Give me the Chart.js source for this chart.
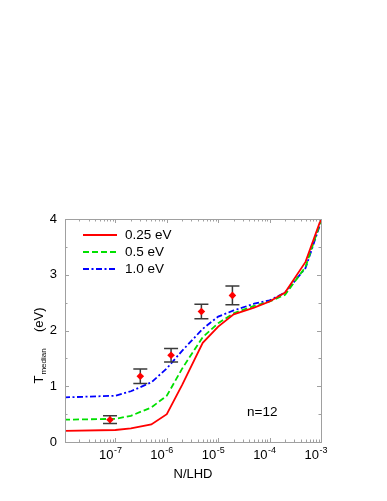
<!DOCTYPE html>
<html>
<head>
<meta charset="utf-8">
<script src="https://cdn.jsdelivr.net/npm/chart.js@4/dist/chart.umd.min.js"></script>
<style>
html,body{margin:0;padding:0;background:#fff;}
canvas{display:block;}
</style>
</head>
<body>
<canvas id="c" width="387" height="501"></canvas>
<script>
// ---- data ----
const xValues = [1e-8, 1e-7, 2e-7, 5e-7, 1e-6, 2e-6, 5e-6, 1e-5, 2e-5, 5e-5, 1e-4, 2e-4, 5e-4, 1e-3];
const series025 = [0.20, 0.215, 0.245, 0.315, 0.50, 1.03, 1.78, 2.07, 2.29, 2.41, 2.52, 2.68, 3.23, 4.00];
const series05  = [0.40, 0.415, 0.47, 0.62, 0.83, 1.32, 1.88, 2.13, 2.31, 2.44, 2.52, 2.64, 3.14, 3.97];
const series10  = [0.80, 0.83, 0.91, 1.07, 1.32, 1.64, 2.03, 2.25, 2.36, 2.48, 2.54, 2.68, 3.12, 3.95];
const seriesLabels = ['0.25 eV', '0.5 eV', '1.0 eV'];
const expX   = [7.85e-8, 3.05e-7, 1.21e-6, 4.71e-6, 1.89e-5];
const expY   = [0.40, 1.18, 1.555, 2.34, 2.63];
const expErr = [0.07, 0.13, 0.12, 0.13, 0.17];
const xTickValues = [1e-7, 1e-6, 1e-5, 1e-4, 1e-3];
const xTickExponents = ['-7', '-6', '-5', '-4', '-3'];
const yTickValues = [0, 1, 2, 3, 4];
const xTitle = 'N/LHD';
const yTitleMain = 'T';
const yTitleSub = 'median';
const yTitleUnit = '(eV)';
const annotation = 'n=12';

const FONT = '"Liberation Sans", Arial, Helvetica, sans-serif';
const pts = (ys) => xValues.map((x, i) => ({x: x, y: ys[i]}));

const decorPlugin = {
  id: 'decor',
  beforeDatasetDraw(chart, args) {
    if (args.index !== 0) return;
    const ctx = chart.ctx, xs = chart.scales.x, ys = chart.scales.y;
    ctx.save();
    ctx.strokeStyle = '#3a3a3a';
    ctx.lineWidth = 1.5;
    expX.forEach((xv, i) => {
      const px = xs.getPixelForValue(xv);
      const top = ys.getPixelForValue(expY[i] + expErr[i]);
      const bot = ys.getPixelForValue(expY[i] - expErr[i]);
      ctx.beginPath();
      ctx.moveTo(px, top); ctx.lineTo(px, bot);
      ctx.moveTo(px - 7, top); ctx.lineTo(px + 7, top);
      ctx.moveTo(px - 7, bot); ctx.lineTo(px + 7, bot);
      ctx.stroke();
    });
    ctx.restore();
  },
  afterDraw(chart) {
    const ctx = chart.ctx, a = chart.chartArea, xs = chart.scales.x, ys = chart.scales.y;
    ctx.save();
    // frame
    ctx.strokeStyle = '#a0a0a0';
    ctx.lineWidth = 1;
    ctx.strokeRect(a.left + 0.5, a.top + 0.5, a.right - a.left, a.bottom - a.top);
    // ticks
    ctx.beginPath();
    const logMin = Math.log10(xs.min), logMax = Math.log10(xs.max);
    for (let d = Math.floor(logMin); d <= Math.ceil(logMax); d++) {
      for (let m = 1; m <= 9; m++) {
        const v = m * Math.pow(10, d);
        if (v < xs.min * 0.999 || v > xs.max * 1.001) continue;
        const px = Math.round(xs.getPixelForValue(v)) + 0.5;
        const len = m === 1 ? 4 : 2.5;
        ctx.moveTo(px, a.bottom); ctx.lineTo(px, a.bottom - len);
        ctx.moveTo(px, a.top); ctx.lineTo(px, a.top + len);
      }
    }
    for (let v = 0; v <= 4.0001; v += 0.5) {
      const py = Math.round(ys.getPixelForValue(v)) + 0.5;
      const len = (Math.abs(v - Math.round(v)) < 1e-6) ? 4 : 2.5;
      ctx.moveTo(a.left, py); ctx.lineTo(a.left + len, py);
      ctx.moveTo(a.right, py); ctx.lineTo(a.right - len, py);
    }
    ctx.stroke();

    ctx.fillStyle = '#000';
    // y tick labels
    ctx.font = '13px ' + FONT;
    ctx.textAlign = 'right';
    ctx.textBaseline = 'middle';
    yTickValues.forEach(v => ctx.fillText(String(v), 57, ys.getPixelForValue(v)));
    // x tick labels with superscripts
    ctx.textAlign = 'left';
    ctx.textBaseline = 'alphabetic';
    xTickValues.forEach((v, i) => {
      const px = xs.getPixelForValue(v);
      ctx.font = '13px ' + FONT;
      const w10 = ctx.measureText('10').width;
      const x0 = px - 2 - w10;
      ctx.fillText('10', x0, 458.5);
      ctx.font = '9px ' + FONT;
      ctx.fillText(xTickExponents[i], x0 + w10 + 0.5, 453);
    });
    // x title
    ctx.font = '13px ' + FONT;
    ctx.textAlign = 'center';
    ctx.fillText(xTitle, (a.left + a.right) / 2, 478);
    // y title (rotated)
    ctx.save();
    ctx.translate(42.5, 0);
    ctx.rotate(-Math.PI / 2);
    ctx.textAlign = 'left';
    ctx.font = '13px ' + FONT;
    let u = -383.5;
    ctx.fillText(yTitleMain, u, 0);
    u += ctx.measureText(yTitleMain).width + 1;
    ctx.font = '8px ' + FONT;
    ctx.fillText(yTitleSub, u, 3);
    ctx.font = '13px ' + FONT;
    ctx.textAlign = 'right';
    ctx.fillText(yTitleUnit, -307.5, 0);
    ctx.restore();
    // annotation
    ctx.font = '13.5px ' + FONT;
    ctx.textAlign = 'left';
    ctx.textBaseline = 'middle';
    ctx.fillText(annotation, 247, 412);
    // legend
    const lineDs = chart.data.datasets.slice(1);
    lineDs.forEach((ds, i) => {
      const y = 235 + i * 17;
      ctx.save();
      ctx.strokeStyle = ds.borderColor;
      ctx.lineWidth = ds.borderWidth;
      ctx.setLineDash(ds.borderDash || []);
      ctx.beginPath();
      ctx.moveTo(83, y); ctx.lineTo(117, y);
      ctx.stroke();
      ctx.restore();
      ctx.fillStyle = '#000';
      ctx.font = '13.5px ' + FONT;
      ctx.textBaseline = 'middle';
      ctx.fillText(ds.label, 125, y + 0.5);
    });
    ctx.restore();
  }
};

new Chart(document.getElementById('c'), {
  type: 'scatter',
  data: {
    datasets: [
      {
        label: 'data',
        data: expX.map((x, i) => ({x: x, y: expY[i]})),
        pointStyle: 'rectRot',
        pointRadius: 3.8,
        backgroundColor: '#ff0000',
        borderColor: '#ff0000',
        borderWidth: 0,
        showLine: false
      },
      {
        label: seriesLabels[0], data: pts(series025), showLine: true,
        borderColor: '#ff0000', borderWidth: 1.8, pointRadius: 0, tension: 0, fill: false
      },
      {
        label: seriesLabels[1], data: pts(series05), showLine: true,
        borderColor: '#00e000', borderWidth: 1.8, borderDash: [6, 3], pointRadius: 0, tension: 0, fill: false
      },
      {
        label: seriesLabels[2], data: pts(series10), showLine: true,
        borderColor: '#0000ff', borderWidth: 1.8, borderDash: [6, 2.5, 2, 2.5], pointRadius: 0, tension: 0, fill: false
      }
    ]
  },
  options: {
    responsive: false,
    animation: false,
    layout: {padding: {left: 65, top: 219, right: 66, bottom: 59}},
    plugins: {legend: {display: false}, tooltip: {enabled: false}},
    scales: {
      x: {type: 'logarithmic', min: 1.045e-8, max: 1e-3, display: false},
      y: {type: 'linear', min: 0, max: 4, display: false}
    }
  },
  plugins: [decorPlugin]
});
</script>
</body>
</html>
